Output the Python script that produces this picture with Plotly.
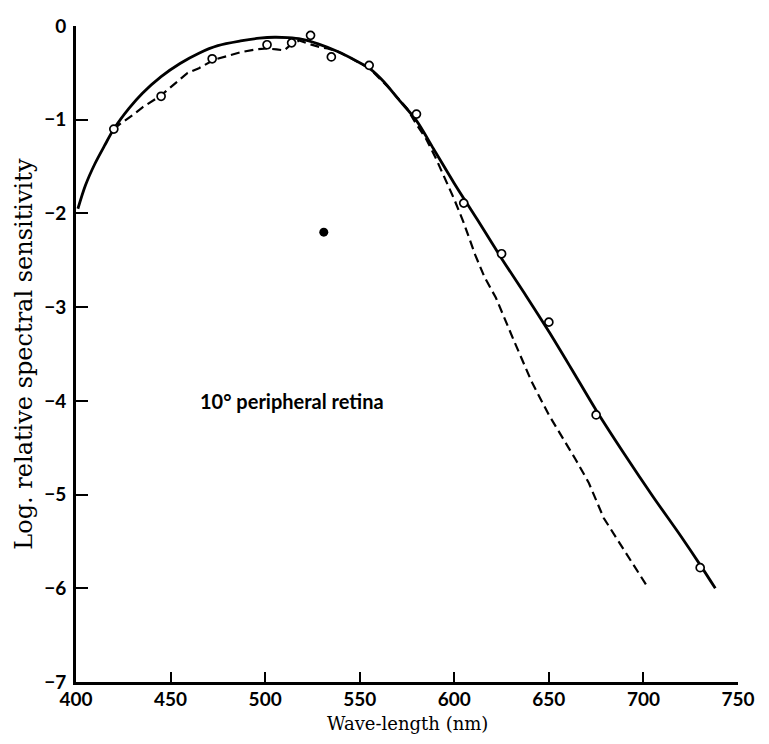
import plotly.graph_objects as go

# Solid curve (fitted)
solid_x = [401, 405, 410, 415, 420, 428, 435, 445, 455, 465, 475, 487, 497, 505, 512, 519,
           528, 538, 548, 555, 563, 570, 580, 589, 600, 612, 625, 638, 650, 662, 675, 690,
           705, 720, 730, 738]
solid_y = [-1.95, -1.70, -1.47, -1.28, -1.10, -0.88, -0.72, -0.54, -0.40, -0.29, -0.21, -0.16,
           -0.13, -0.12, -0.125, -0.14, -0.19, -0.27, -0.37, -0.45, -0.60, -0.77, -1.01, -1.31,
           -1.68, -2.06, -2.48, -2.88, -3.26, -3.66, -4.10, -4.57, -5.02, -5.45, -5.75, -6.0]

# Dashed curve
dash_x = [420, 423, 430, 435, 445, 451, 459, 465, 473, 480, 487, 495, 501, 506, 510, 513, 518,
          523, 529, 533, 538, 545, 555, 565, 575, 580, 585, 590, 595, 600, 605, 611, 616, 622,
          632, 641, 650, 656, 664, 671, 675, 679, 690, 702]
dash_y = [-1.10, -1.05, -0.95, -0.87, -0.74, -0.64, -0.50, -0.45, -0.36, -0.32, -0.28, -0.25,
          -0.24, -0.25, -0.26, -0.21, -0.155, -0.19, -0.225, -0.24, -0.27, -0.34, -0.45, -0.65,
          -0.88, -1.05, -1.20, -1.40, -1.62, -1.85, -2.10, -2.44, -2.68, -2.90, -3.38, -3.80,
          -4.15, -4.35, -4.62, -4.87, -5.07, -5.25, -5.60, -5.98]

# Measured points (open circles)
pts_x = [420, 445, 472, 501, 514, 524, 535, 555, 580, 605, 625, 650, 675, 730]
pts_y = [-1.10, -0.75, -0.35, -0.20, -0.18, -0.10, -0.33, -0.42, -0.94, -1.89, -2.43, -3.16,
         -4.15, -5.78]

# Ink spot in the original print
spot_x = [531]
spot_y = [-2.2]

x_ticks = [400, 450, 500, 550, 600, 650, 700, 750]
y_ticks = [0, -1, -2, -3, -4, -5, -6, -7]

fig = go.Figure()
fig.add_trace(go.Scatter(x=solid_x, y=solid_y, mode="lines",
                         line=dict(color="black", width=2.8, shape="spline", smoothing=0.8),
                         hoverinfo="skip", showlegend=False))
fig.add_trace(go.Scatter(x=dash_x, y=dash_y, mode="lines",
                         line=dict(color="black", width=2.2, dash="9px,5px"),
                         hoverinfo="skip", showlegend=False))
fig.add_trace(go.Scatter(x=pts_x, y=pts_y, mode="markers",
                         marker=dict(symbol="circle", size=8, color="white",
                                     line=dict(color="black", width=1.7)),
                         showlegend=False))
fig.add_trace(go.Scatter(x=spot_x, y=spot_y, mode="markers",
                         marker=dict(symbol="circle", size=9, color="black"),
                         hoverinfo="skip", showlegend=False))

tick_font = dict(family="Lato", size=19, color="black", weight="bold")
fig.update_xaxes(range=[400, 750], tickvals=x_ticks, ticks="inside", ticklen=10, tickwidth=2.4,
                 tickcolor="black", showline=True, linecolor="black", linewidth=2.6,
                 showgrid=False, zeroline=False, tickfont=tick_font, ticklabelstandoff=-2,
                 ticklabeloverflow="allow")
fig.update_yaxes(range=[-7, 0], tickvals=y_ticks, ticks="inside", ticklen=12, tickwidth=2.4,
                 tickcolor="black", showline=True, linecolor="black", linewidth=2.6,
                 showgrid=False, zeroline=False, tickfont=tick_font, ticklabelstandoff=3,
                 ticklabeloverflow="allow")

fig.add_annotation(x=514, y=-4.0, text="10° peripheral retina", showarrow=False,
                   font=dict(family="Lato", size=20, color="black", weight="bold"))
fig.add_annotation(xref="paper", yref="paper", x=0.5, y=-0.063, yanchor="middle",
                   text="Wave-length (nm)", showarrow=False,
                   font=dict(family="DejaVu Serif", size=18, color="black"))
fig.add_annotation(xref="paper", yref="paper", x=-0.079, y=0.5, xanchor="center",
                   yanchor="middle", textangle=-90,
                   text="Log. relative spectral sensitivity", showarrow=False,
                   font=dict(family="DejaVu Serif", size=24, color="black"))

fig.update_layout(width=753, height=728, margin=dict(l=68, r=16, t=6, b=54),
                  paper_bgcolor="white", plot_bgcolor="white")
fig.write_html("out.html")
